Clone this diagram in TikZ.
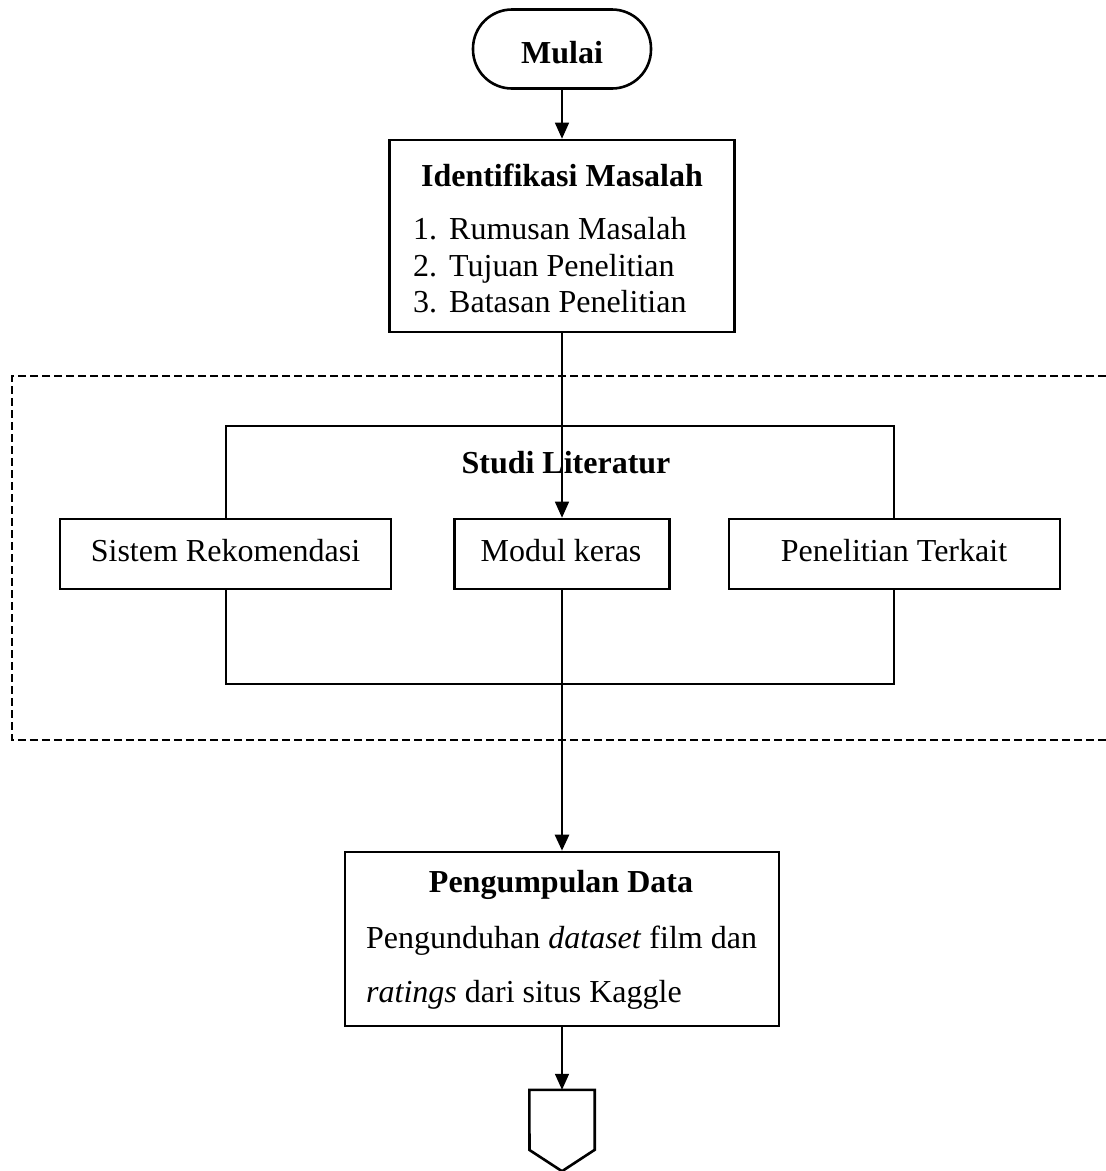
\documentclass[tikz,border=0pt]{standalone}
\usepackage{fontspec}
\setmainfont{Liberation Serif}
\usetikzlibrary{arrows.meta}
\tikzset{
  boxline/.style={draw, line width=2.6pt, fill=white, inner sep=0pt},
  thinline/.style={line width=1.3pt},
  arr/.style={line width=1.4pt, -{Triangle[width=14pt,length=16pt]}},
  arrthick/.style={line width=2.6pt, -{Triangle[width=14pt,length=16pt]}},
  txt/.style={inner sep=0pt, anchor=base, font=\fontsize{32}{36}\selectfont},
  txtl/.style={inner sep=0pt, anchor=base west, font=\fontsize{32}{36}\selectfont},
}
\begin{document}
\begin{tikzpicture}[x=1pt, y=-1pt]
\useasboundingbox (0,0) rectangle (1106,1171);
\fill[white] (0,0) rectangle (1106,1171);

% dashed group
\draw[line width=2.4pt, dash pattern=on 8pt off 4pt] (1130,376) -- (12,376) -- (12,740) -- (1130,740);
% inner thin rectangle
\draw[thinline] (226,426) rectangle (894,684);

% start
\node[boxline, rounded corners=39pt, minimum width=178pt, minimum height=79pt] (mulai) at (562,49) {};
\node[txt, font=\fontsize{32}{36}\selectfont\bfseries] (mulaitxt) at (562,63) {Mulai};

% identifikasi
\node[boxline, minimum width=345pt, minimum height=192pt] (ident) at (562,236) {};
\node[txt, font=\fontsize{32}{36}\selectfont\bfseries] (identt) at (562,186) {Identifikasi Masalah};
\node[txtl] (n1) at (413,239) {1.};
\node[txtl] (i1) at (449,239) {Rumusan Masalah};
\node[txtl] (n2) at (413,276) {2.};
\node[txtl] (i2) at (449,276) {Tujuan Penelitian};
\node[txtl] (n3) at (413,312) {3.};
\node[txtl] (i3) at (449,312) {Batasan Penelitian};

% studi literatur
\node[txt, font=\fontsize{32}{36}\selectfont\bfseries] (studi) at (566,473) {Studi Literatur};

\node[boxline, minimum width=331pt, minimum height=70pt] (sistem) at (225.5,554) {};
\node[txt] (sistemt) at (225.5,561) {Sistem Rekomendasi};
\node[boxline, minimum width=215pt, minimum height=70pt] (modul) at (562,554) {};
\node[txt] (modult) at (561,561) {Modul keras};
\node[boxline, minimum width=331pt, minimum height=70pt] (pen) at (894.5,554) {};
\node[txt] (pent) at (894,561) {Penelitian Terkait};

% pengumpulan
\node[boxline, minimum width=434pt, minimum height=174pt] (kumpul) at (562,939) {};
\node[txt, font=\fontsize{32}{36}\selectfont\bfseries] (kumpult) at (561,892) {Pengumpulan Data};
\node[txtl] (k1) at (366,948) {Pengunduhan \textit{dataset} film dan};
\node[txtl] (k2) at (366,1002) {\textit{ratings} dari situs Kaggle};

% off-page connector
\node[inner sep=0pt, minimum width=65pt, minimum height=81pt] (off) at (562,1130.5) {};
\draw[line width=2.6pt, line join=miter] (off.north west) -- (off.north east) -- ++(0,60) -- (off.south) -- (529.5,1150) -- cycle;

% connectors
\coordinate (inbot) at (562,684);
\draw[arr] (mulai.south) -- (ident.north);
\draw[arr] (ident.south) -- (modul.north);
\draw[thinline] (modul.south) -- (inbot);
\draw[arrthick] (inbot) -- (kumpul.north);
\draw[arr] (kumpul.south) -- (off.north);
\end{tikzpicture}
\end{document}
